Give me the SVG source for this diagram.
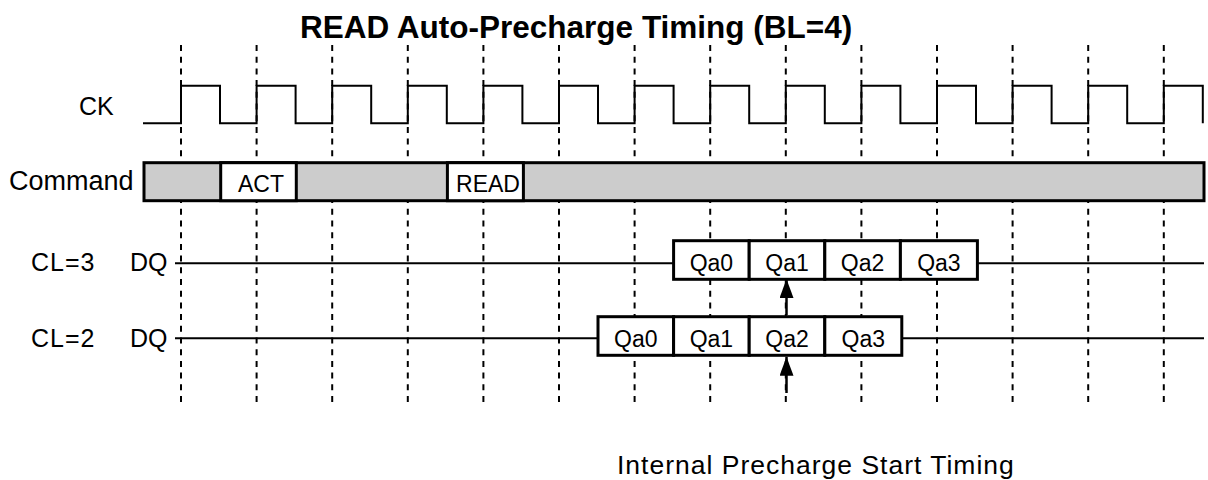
<svg xmlns="http://www.w3.org/2000/svg" width="1208" height="480" viewBox="0 0 1208 480">
<style>
text{font-family:"Liberation Sans",Arial,sans-serif;fill:#000}
.lbl{font-size:25px}
.cell{font-size:23px;text-anchor:middle}
.grid line{stroke:#000;stroke-width:2;stroke-dasharray:6 5.7}
.wave{fill:none;stroke:#000;stroke-width:2}
.box{fill:#fff;stroke:#000;stroke-width:3}
.bar{fill:#ccc;stroke:#000;stroke-width:3}
.conn{stroke:#000;stroke-width:2.5;fill:none}
</style>
<defs>
<marker id="arr" viewBox="0 0 19 14" refX="19" refY="7" markerWidth="19" markerHeight="14" markerUnits="userSpaceOnUse" orient="auto">
<path d="M19,7 L0,0 L0,14 Z" fill="#000"/>
</marker>
</defs>
<rect width="1208" height="480" fill="#fff"/>
<g id="title"><text x="300" y="38" style="font-size:31.5px;font-weight:bold">READ Auto-Precharge Timing (BL=4)</text></g>
<g id="grid" class="grid">
<line x1="181" y1="45" x2="181" y2="402"/>
<line x1="256.6" y1="45" x2="256.6" y2="402"/>
<line x1="332.2" y1="45" x2="332.2" y2="402"/>
<line x1="407.8" y1="45" x2="407.8" y2="402"/>
<line x1="483.4" y1="45" x2="483.4" y2="402"/>
<line x1="559" y1="45" x2="559" y2="402"/>
<line x1="634.6" y1="45" x2="634.6" y2="402"/>
<line x1="710.2" y1="45" x2="710.2" y2="402"/>
<line x1="785.8" y1="45" x2="785.8" y2="402"/>
<line x1="861.4" y1="45" x2="861.4" y2="402"/>
<line x1="937" y1="45" x2="937" y2="402"/>
<line x1="1012.6" y1="45" x2="1012.6" y2="402"/>
<line x1="1088.2" y1="45" x2="1088.2" y2="402"/>
<line x1="1163.8" y1="45" x2="1163.8" y2="402"/>
</g>
<g id="ck">
<text class="lbl" x="79" y="115">CK</text>
<path class="wave" d="M143 123.3 H181 V85.7 H220 V123.3 H256.6 V85.7 H295.6 V123.3 H332.2 V85.7 H371.2 V123.3 H407.8 V85.7 H446.8 V123.3 H483.4 V85.7 H522.4 V123.3 H559 V85.7 H598 V123.3 H634.6 V85.7 H673.6 V123.3 H710.2 V85.7 H749.2 V123.3 H785.8 V85.7 H824.8 V123.3 H861.4 V85.7 H900.4 V123.3 H937 V85.7 H976 V123.3 H1012.6 V85.7 H1051.6 V123.3 H1088.2 V85.7 H1127.2 V123.3 H1163.8 V85.7 H1202.8 V123.3"/>
</g>
<g id="command">
<text x="9" y="190" style="font-size:27px">Command</text>
<rect class="bar" x="144" y="162.7" width="1060" height="38"/>
<g id="cmd-act"><rect class="box" x="220.7" y="162.7" width="75.6" height="38"/><text class="cell" x="261" y="191.5">ACT</text></g>
<g id="cmd-read"><rect class="box" x="447.4" y="162.7" width="76" height="38"/><text class="cell" x="488" y="191.5">READ</text></g>
</g>
<g id="dq-cl3">
<text class="lbl" x="31" y="271" style="letter-spacing:1px">CL=3</text>
<text class="lbl" x="130" y="271">DQ</text>
<line x1="175" y1="263.3" x2="1204" y2="263.3" stroke="#000" stroke-width="2"/>
<g id="cl3-qa0"><rect class="box" x="673.6" y="240.7" width="75.6" height="38.6"/><text class="cell" x="711.4" y="271">Qa0</text></g>
<g id="cl3-qa1"><rect class="box" x="749.2" y="240.7" width="75.6" height="38.6"/><text class="cell" x="787" y="271">Qa1</text></g>
<g id="cl3-qa2"><rect class="box" x="824.8" y="240.7" width="75.6" height="38.6"/><text class="cell" x="862.6" y="271">Qa2</text></g>
<g id="cl3-qa3"><rect class="box" x="900.4" y="240.7" width="77" height="38.6"/><text class="cell" x="938.9" y="271">Qa3</text></g>
</g>
<g id="dq-cl2">
<text class="lbl" x="31" y="346.5" style="letter-spacing:1px">CL=2</text>
<text class="lbl" x="130" y="346.5">DQ</text>
<line x1="175" y1="338.3" x2="1204" y2="338.3" stroke="#000" stroke-width="2"/>
<g id="cl2-qa0"><rect class="box" x="598" y="316.7" width="75.6" height="38.6"/><text class="cell" x="635.8" y="347">Qa0</text></g>
<g id="cl2-qa1"><rect class="box" x="673.6" y="316.7" width="75.6" height="38.6"/><text class="cell" x="711.4" y="347">Qa1</text></g>
<g id="cl2-qa2"><rect class="box" x="749.2" y="316.7" width="75.6" height="38.6"/><text class="cell" x="787" y="347">Qa2</text></g>
<g id="cl2-qa3"><rect class="box" x="824.8" y="316.7" width="77" height="38.6"/><text class="cell" x="863.3" y="347">Qa3</text></g>
</g>
<g id="connectors">
<line class="conn" x1="786.5" y1="315.2" x2="786.5" y2="279" marker-end="url(#arr)"/>
<line class="conn" x1="786.5" y1="393" x2="786.5" y2="356.8" marker-end="url(#arr)"/>
</g>
<g id="note"><text x="617" y="474" style="font-size:26.5px;letter-spacing:1px">Internal Precharge Start Timing</text></g>
</svg>
